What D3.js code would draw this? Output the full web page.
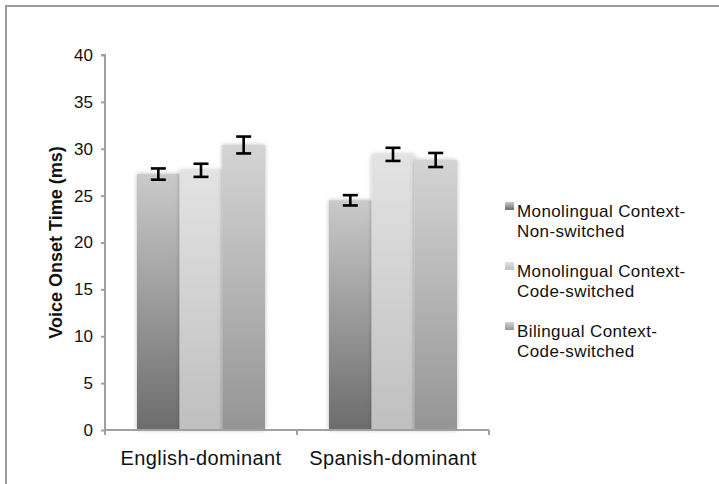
<!DOCTYPE html>
<html>
<head>
<meta charset="utf-8">
<script src="https://cdn.jsdelivr.net/npm/d3@7"></script>
<style>
  html, body { margin: 0; padding: 0; background: #fff; }
  svg { display: block; font-family: "Liberation Sans", Arial, Helvetica, sans-serif; }
</style>
</head>
<body>
<svg id="chart" width="719" height="484"></svg>
<script>
// Chart data
const groups = ["English-dominant", "Spanish-dominant"];
const seriesNames = [
  ["Monolingual Context-", "Non-switched"],
  ["Monolingual Context-", "Code-switched"],
  ["Bilingual Context-", "Code-switched"]
];
const englishValues = [27.3, 27.7, 30.4];
const spanishValues = [24.5, 29.4, 28.8];
const englishErrors = [0.6, 0.7, 0.9];
const spanishErrors = [0.55, 0.7, 0.75];
const yTicks = [0, 5, 10, 15, 20, 25, 30, 35, 40];

// Gradient stops (top, bottom) for each series
const seriesShades = [
  ["#cacaca", "#6c6c6c"],
  ["#e3e3e3", "#bfbfbf"],
  ["#d4d4d4", "#959595"]
];

const valuesByGroup = [englishValues, spanishValues];
const errorsByGroup = [englishErrors, spanishErrors];

const svg = d3.select("#chart");
const defs = svg.append("defs");

seriesShades.forEach((s, i) => {
  const g = defs.append("linearGradient")
    .attr("id", "grad" + i)
    .attr("x1", 0).attr("y1", 0).attr("x2", 0).attr("y2", 1);
  g.append("stop").attr("offset", "0%").attr("stop-color", s[0]);
  g.append("stop").attr("offset", "100%").attr("stop-color", s[1]);
});

const shadow = defs.append("filter").attr("id", "shadow")
  .attr("x", "-30%").attr("y", "-10%").attr("width", "160%").attr("height", "120%");
shadow.append("feDropShadow")
  .attr("dx", 0).attr("dy", 0).attr("stdDeviation", 2.2)
  .attr("flood-color", "#000").attr("flood-opacity", 0.28);

// Outer frame
svg.append("rect")
  .attr("x", 6).attr("y", 6).attr("width", 800).attr("height", 600)
  .attr("fill", "none").attr("stroke", "#9a9a9a").attr("stroke-width", 2);

const x0 = d3.scaleBand().domain(groups).range([105, 489]).padding(0);
const x1 = d3.scaleBand().domain(d3.range(3)).range([32, 160]).padding(0);
const y = d3.scaleLinear().domain([0, 40]).range([430, 55]);

// Bars
const gBars = svg.append("g");
groups.forEach((grp, gi) => {
  valuesByGroup[gi].forEach((v, si) => {
    gBars.append("rect")
      .attr("x", x0(grp) + x1(si))
      .attr("y", y(v))
      .attr("width", x1.bandwidth())
      .attr("height", y(0) - y(v))
      .attr("fill", `url(#grad${si})`)
      .attr("filter", "url(#shadow)");
  });
});

// Y axis
const yAxis = d3.axisLeft(y).tickValues(yTicks).tickSize(4).tickPadding(8);
const gy = svg.append("g").attr("transform", "translate(105,0)").call(yAxis);
gy.select(".domain").attr("stroke", "#a0a0a0").attr("stroke-width", 2)
  .attr("d", `M-4,${y(40)}H0V${y(0)}`);
gy.selectAll(".tick line").attr("stroke", "#a0a0a0").attr("stroke-width", 2);
gy.selectAll(".tick text").attr("font-size", 17).attr("fill", "#111")
  .attr("font-family", "'Liberation Sans', Arial, sans-serif");

// X axis
const xAxis = d3.axisBottom(x0).tickSize(0).tickPadding(0);
const gx = svg.append("g").attr("transform", `translate(0,${y(0)})`).call(xAxis);
gx.select(".domain").attr("stroke", "#a0a0a0").attr("stroke-width", 2)
  .attr("d", `M105,0H489`);
gx.selectAll(".tick text").attr("font-size", 20).attr("letter-spacing", 0.4)
  .attr("fill", "#111").attr("dy", 0).attr("y", 35)
  .attr("font-family", "'Liberation Sans', Arial, sans-serif");
// group boundary ticks
const boundaries = [x0.range()[0], x0(groups[1]), x0.range()[1]];
gx.selectAll(".btick").data(boundaries).enter().append("line")
  .attr("x1", d => d).attr("x2", d => d)
  .attr("y1", 0).attr("y2", 5)
  .attr("stroke", "#a0a0a0").attr("stroke-width", 2);

// Error bars
const gErr = svg.append("g").attr("stroke", "#000").attr("stroke-width", 2.6).attr("fill", "none");
groups.forEach((grp, gi) => {
  valuesByGroup[gi].forEach((v, si) => {
    const cx = x0(grp) + x1(si) + x1.bandwidth() / 2;
    const e = errorsByGroup[gi][si];
    const yt = y(v + e), yb = y(v - e);
    gErr.append("line").attr("x1", cx).attr("x2", cx).attr("y1", yt).attr("y2", yb);
    gErr.append("line").attr("x1", cx - 7.5).attr("x2", cx + 7.5).attr("y1", yt).attr("y2", yt);
    gErr.append("line").attr("x1", cx - 7.5).attr("x2", cx + 7.5).attr("y1", yb).attr("y2", yb);
  });
});

// Y axis title
svg.append("text")
  .attr("transform", `translate(62,${(y(0) + y(40)) / 2}) rotate(-90)`)
  .attr("text-anchor", "middle")
  .attr("font-size", 18).attr("font-weight", "bold").attr("fill", "#111")
  .text("Voice Onset Time (ms)");

// Legend
const legend = svg.append("g");
seriesNames.forEach((lines, i) => {
  const base = 217 + i * 60;
  legend.append("rect")
    .attr("x", 505).attr("y", base - 15)
    .attr("width", 9).attr("height", 8)
    .attr("fill", `url(#grad${i})`);
  const t = legend.append("text")
    .attr("x", 517).attr("y", base)
    .attr("font-size", 17).attr("letter-spacing", 0.4).attr("fill", "#111");
  lines.forEach((ln, li) => {
    t.append("tspan").attr("x", 517).attr("y", base + li * 19.5).text(ln);
  });
});
</script>
</body>
</html>
